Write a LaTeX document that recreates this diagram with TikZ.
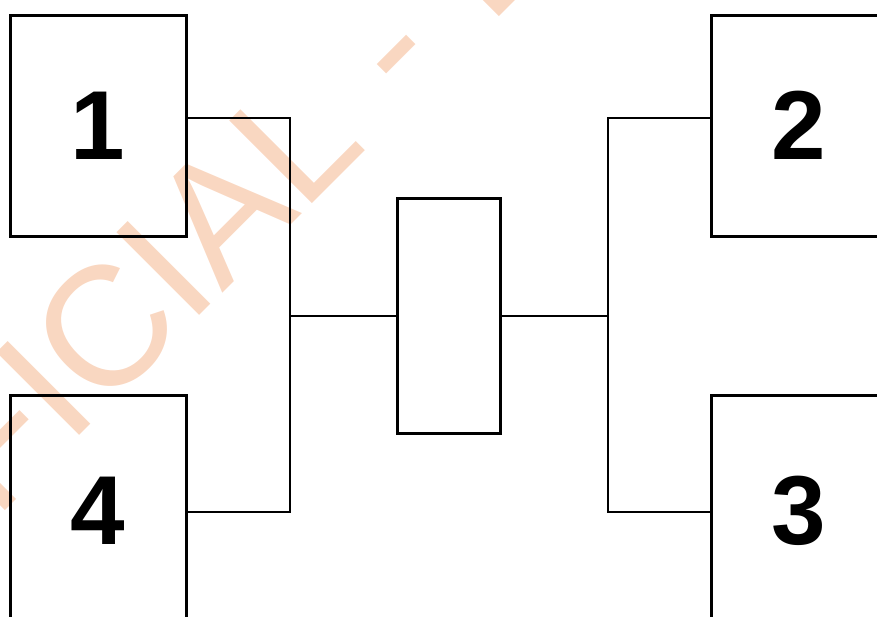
\documentclass[tikz,border=0pt]{standalone}
\usepackage{fontspec}
\setmainfont{Liberation Sans}
\usepackage{xcolor}
\usepackage{tikz}
\usetikzlibrary{positioning,calc}
\definecolor{wmark}{RGB}{249,215,193}

\begin{document}
\begin{tikzpicture}[
    x=1pt, y=1pt,
    unit/.style={draw=black, line width=3pt, minimum width=176pt, minimum height=221pt, inner sep=0pt, font=\fontsize{98}{98}\selectfont\bfseries},
    hub/.style={draw=black, line width=3pt, minimum width=103pt, minimum height=235pt, inner sep=0pt},
    wire/.style={draw=black, line width=2pt}
]
\useasboundingbox (0,0) rectangle (877,-616);
\clip (0,0) rectangle (877,-616);

% watermark behind everything
\node[wmark, inner sep=0pt, anchor=base, rotate=45, font=\fontsize{170}{170}\selectfont] (stamp) at (205.5,-310)
    {\llap{UNOFFIC}I\rlap{AL\kern9pt{} -\kern10pt{} DRAFT}};

\node[unit] (u1) at (98,-125.5) {1};
\node[unit] (u2) at (799,-125.5) {2};
\node[unit, minimum height=232pt] (u4) at (98,-511) {4};
\node[unit, minimum height=232pt] (u3) at (799,-511) {3};
\node[hub] (mid) at (448.5,-315.5) {};

\coordinate[left=106pt of mid.west] (jl);
\coordinate[right=106pt of mid.east] (jr);

\draw[wire] ([yshift=7.5pt]u1.east) -| (jl) |- ([yshift=-1pt]u4.east);
\draw[wire] (jl) -- (mid.west);
\draw[wire] ([yshift=7.5pt]u2.west) -| (jr) |- ([yshift=-1pt]u3.west);
\draw[wire] (mid.east) -- (jr);
\end{tikzpicture}
\end{document}
